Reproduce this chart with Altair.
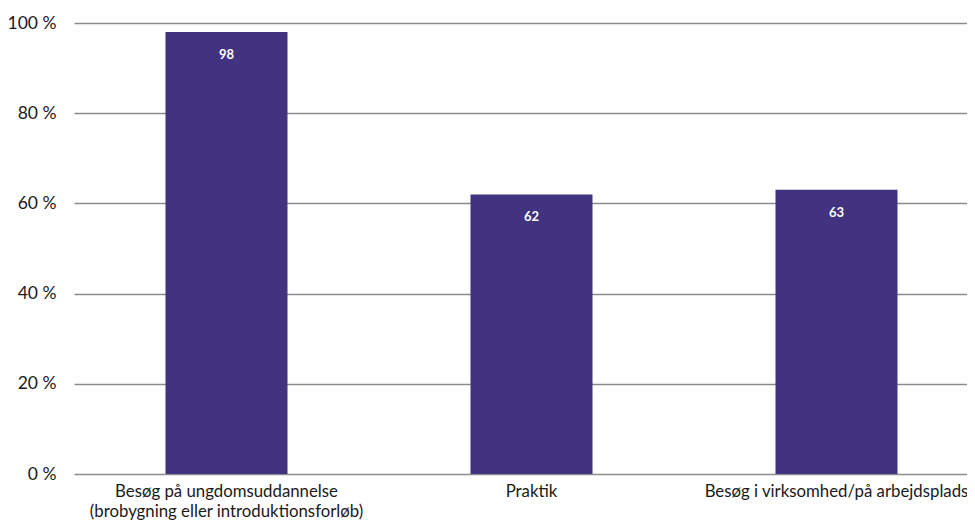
import altair as alt
import pandas as pd

categories = [
    "Besøg på ungdomsuddannelse|(brobygning eller introduktionsforløb)",
    "Praktik",
    "Besøg i virksomhed/på arbejdsplads",
]
values = [98, 62, 63]
y_ticks = [0, 20, 40, 60, 80, 100]

df = pd.DataFrame({"cat": categories, "val": values})
FONT = "Lato"
COLOR = "#41337f"

x = alt.X("cat:N", sort=categories, title=None,
          scale=alt.Scale(paddingInner=0.6, paddingOuter=0.3, range=[0, 915]),
          axis=alt.Axis(labelAngle=0, labelExpr="split(datum.label, '|')",
                        labelFontSize=16.8, labelFont=FONT, labelColor="#1a1a1a",
                        labelPadding=9, labelLineHeight=20, ticks=False,
                        domain=False, labelBaseline="top", labelLimit=600))
y = alt.Y("val:Q", title=None,
          scale=alt.Scale(domain=[0, 100]),
          axis=alt.Axis(values=y_ticks, labelExpr="datum.value + ' %'",
                        labelFontSize=17.5, labelFont=FONT, labelColor="#1a1a1a",
                        labelPadding=18, ticks=False, domain=False,
                        gridColor="#8c8c8c", gridWidth=1.5))

bars = alt.Chart(df).mark_bar(color=COLOR).encode(x=x, y=y)
labels = alt.Chart(df).mark_text(color="white", font=FONT, fontSize=13,
                                 fontWeight="bold", baseline="middle", dy=23).encode(
    x=alt.X("cat:N", sort=categories), y="val:Q", text="val:Q")

chart = (bars + labels).properties(
    width=893, height=451,
    padding={"left": 66, "top": 15, "right": 0, "bottom": 48},
    autosize=alt.AutoSizeParams(type="none"),
).configure_view(stroke=None)

chart.save("out.html", embed_options={"renderer": "svg", "actions": False})
